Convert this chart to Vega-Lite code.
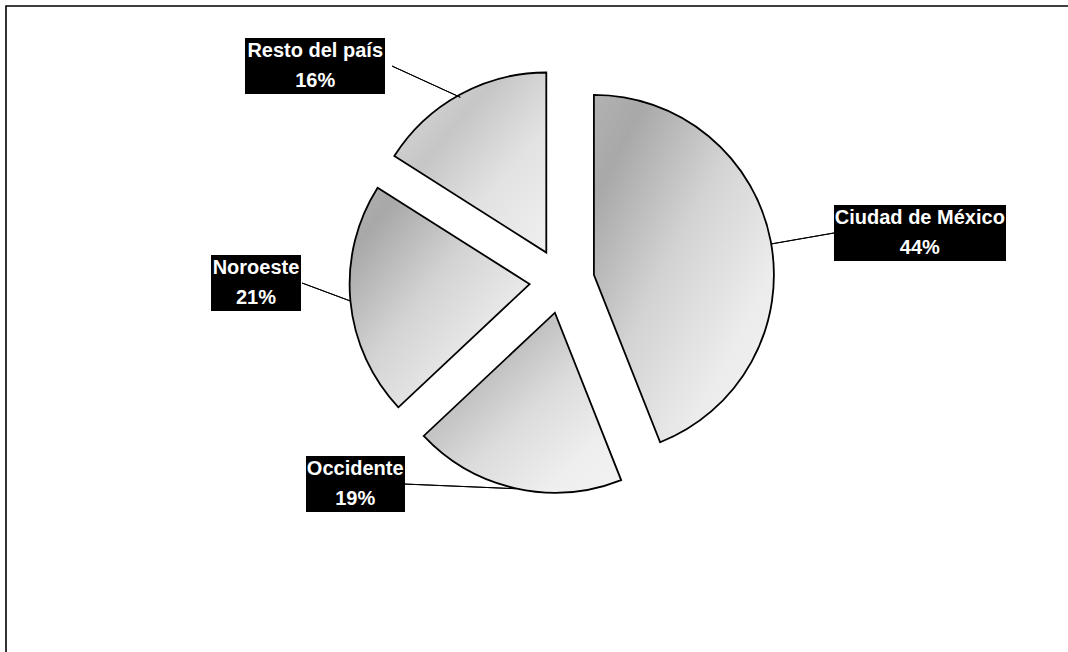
{
  "$schema": "https://vega.github.io/schema/vega-lite/v6.json",
  "width": 1082,
  "height": 666,
  "autosize": {"type": "none"},
  "padding": {"left": 6, "top": 6, "right": -20, "bottom": -20},
  "background": "#ffffff",
  "view": {"stroke": "#000000", "strokeWidth": 1.6, "fill": "#ffffff"},
  "config": {"view": {"stroke": "#000000", "strokeWidth": 1.6}},
  "data": {
    "values": [
      {"region": "Ciudad de México", "pct": 44, "orden": 1, "etiqueta": "Ciudad de México\n44%"},
      {"region": "Occidente", "pct": 19, "orden": 2, "etiqueta": "Occidente\n19%"},
      {"region": "Noroeste", "pct": 21, "orden": 3, "etiqueta": "Noroeste\n21%"},
      {"region": "Resto del país", "pct": 16, "orden": 4, "etiqueta": "Resto del país\n16%"}
    ]
  },
  "encoding": {
    "theta": {"field": "pct", "type": "quantitative", "stack": true},
    "order": {"field": "orden", "type": "quantitative"}
  },
  "layer": [
    {
      "mark": {"type": "arc", "radius": 180, "xOffset": 46.9, "yOffset": -64.1, "stroke": "#000000", "strokeWidth": 1.8,
        "fill": {"gradient": "linear", "x1": 0, "y1": 0, "x2": 1, "y2": 1, "stops": [{"offset": 0, "color": "#b2b2b2"}, {"offset": 0.15, "color": "#a8a8a8"}, {"offset": 0.45, "color": "#d3d3d3"}, {"offset": 0.75, "color": "#ececec"}, {"offset": 1, "color": "#f3f3f3"}]}},
      "encoding": {"opacity": {"condition": {"test": "datum.region === 'Ciudad de México'", "value": 1}, "value": 0}}
    },
    {
      "mark": {"type": "arc", "radius": 180, "xOffset": 7.9, "yOffset": -26.3, "stroke": "#000000", "strokeWidth": 1.8,
        "fill": {"gradient": "linear", "x1": 0, "y1": 0, "x2": 1, "y2": 1, "stops": [{"offset": 0, "color": "#c4c4c4"}, {"offset": 0.3, "color": "#bdbdbd"}, {"offset": 0.55, "color": "#dcdcdc"}, {"offset": 0.8, "color": "#eeeeee"}, {"offset": 1, "color": "#f3f3f3"}]}},
      "encoding": {"opacity": {"condition": {"test": "datum.region === 'Occidente'", "value": 1}, "value": 0}}
    },
    {
      "mark": {"type": "arc", "radius": 180, "xOffset": -17.4, "yOffset": -54.9, "stroke": "#000000", "strokeWidth": 1.8,
        "fill": {"gradient": "linear", "x1": 0, "y1": 0, "x2": 1, "y2": 1, "stops": [{"offset": 0, "color": "#b2b2b2"}, {"offset": 0.15, "color": "#a8a8a8"}, {"offset": 0.45, "color": "#d3d3d3"}, {"offset": 0.75, "color": "#ececec"}, {"offset": 1, "color": "#f3f3f3"}]}},
      "encoding": {"opacity": {"condition": {"test": "datum.region === 'Noroeste'", "value": 1}, "value": 0}}
    },
    {
      "mark": {"type": "arc", "radius": 180, "xOffset": -0.7, "yOffset": -86.5, "stroke": "#000000", "strokeWidth": 1.8,
        "fill": {"gradient": "linear", "x1": 0, "y1": 0, "x2": 1, "y2": 1, "stops": [{"offset": 0, "color": "#dcdcdc"}, {"offset": 0.35, "color": "#c6c6c6"}, {"offset": 0.65, "color": "#e2e2e2"}, {"offset": 1, "color": "#f0f0f0"}]}},
      "encoding": {"opacity": {"condition": {"test": "datum.region === 'Resto del país'", "value": 1}, "value": 0}}
    },
    {
      "mark": {"type": "arc", "radius": 244, "radius2": 180, "padAngle": 3.1416, "thetaOffset": 0.0157, "theta2Offset": 0.0157, "xOffset": 46.9, "yOffset": -64.1, "filled": false, "stroke": "#000000", "strokeWidth": 1},
      "encoding": {"opacity": {"condition": {"test": "datum.region === 'Ciudad de México'", "value": 1}, "value": 0}}
    },
    {
      "mark": {"type": "arc", "radius": 110.8, "radius2": 0, "padAngle": 3.1416, "thetaOffset": 1.3928, "theta2Offset": 1.3928, "xOffset": -31.3, "yOffset": 149.7, "filled": false, "stroke": "#000000", "strokeWidth": 1},
      "encoding": {"opacity": {"condition": {"test": "datum.region === 'Occidente'", "value": 1}, "value": 0}}
    },
    {
      "mark": {"type": "arc", "radius": 51.6, "radius2": 0, "padAngle": 3.1416, "thetaOffset": 0.4503, "theta2Offset": 0.4503, "xOffset": -196.6, "yOffset": -38, "filled": false, "stroke": "#000000", "strokeWidth": 1},
      "encoding": {"opacity": {"condition": {"test": "datum.region === 'Noroeste'", "value": 1}, "value": 0}}
    },
    {
      "mark": {"type": "arc", "radius": 75.1, "radius2": 0, "padAngle": 3.1416, "thetaOffset": -0.6388, "theta2Offset": -0.6388, "xOffset": -86.7, "yOffset": -241.7, "filled": false, "stroke": "#000000", "strokeWidth": 1},
      "encoding": {"opacity": {"condition": {"test": "datum.region === 'Resto del país'", "value": 1}, "value": 0}}
    },
    {
      "mark": {"type": "arc", "radius": 444, "radius2": 272, "padAngle": 3.1416, "thetaOffset": 0.1885, "theta2Offset": 0.1885, "xOffset": 15, "yOffset": -106, "filled": false, "stroke": "#000000", "strokeWidth": 56, "strokeJoin": "miter", "strokeCap": "butt"},
      "encoding": {"opacity": {"condition": {"test": "datum.region === 'Ciudad de México'", "value": 1}, "value": 0}}
    },
    {
      "mark": {"type": "arc", "radius": 256, "radius2": 157, "padAngle": 3.1416, "thetaOffset": 1.35089, "theta2Offset": 1.35089, "xOffset": 15, "yOffset": 145, "filled": false, "stroke": "#000000", "strokeWidth": 56, "strokeJoin": "miter", "strokeCap": "butt"},
      "encoding": {"opacity": {"condition": {"test": "datum.region === 'Occidente'", "value": 1}, "value": 0}}
    },
    {
      "mark": {"type": "arc", "radius": 351, "radius2": 261, "padAngle": 3.1416, "thetaOffset": 0.09425, "theta2Offset": 0.09425, "xOffset": 15, "yOffset": -56, "filled": false, "stroke": "#000000", "strokeWidth": 56, "strokeJoin": "miter", "strokeCap": "butt"},
      "encoding": {"opacity": {"condition": {"test": "datum.region === 'Noroeste'", "value": 1}, "value": 0}}
    },
    {
      "mark": {"type": "arc", "radius": 317, "radius2": 177, "padAngle": 3.1416, "thetaOffset": -1.06814, "theta2Offset": -1.06814, "xOffset": 15, "yOffset": -273, "filled": false, "stroke": "#000000", "strokeWidth": 56, "strokeJoin": "miter", "strokeCap": "butt"},
      "encoding": {"opacity": {"condition": {"test": "datum.region === 'Resto del país'", "value": 1}, "value": 0}}
    },
    {
      "mark": {"type": "text", "radius": 361, "thetaOffset": 0.0559, "xOffset": 15, "yOffset": -73, "lineBreak": "\n", "lineHeight": 30, "font": "Liberation Sans", "fontSize": 20, "fontWeight": "bold", "align": "center", "baseline": "middle", "fill": "#ffffff"},
      "encoding": {"text": {"condition": {"test": "datum.region === 'Ciudad de México'", "field": "etiqueta", "type": "nominal"}, "value": ""}}
    },
    {
      "mark": {"type": "text", "radius": 290, "thetaOffset": 0.574, "xOffset": 15, "yOffset": -73, "lineBreak": "\n", "lineHeight": 30, "font": "Liberation Sans", "fontSize": 20, "fontWeight": "bold", "align": "center", "baseline": "middle", "fill": "#ffffff"},
      "encoding": {"text": {"condition": {"test": "datum.region === 'Occidente'", "field": "etiqueta", "type": "nominal"}, "value": ""}}
    },
    {
      "mark": {"type": "text", "radius": 306, "thetaOffset": 0.0873, "xOffset": 15, "yOffset": -73, "lineBreak": "\n", "lineHeight": 30, "font": "Liberation Sans", "fontSize": 20, "fontWeight": "bold", "align": "center", "baseline": "middle", "fill": "#ffffff"},
      "encoding": {"text": {"condition": {"test": "datum.region === 'Noroeste'", "field": "etiqueta", "type": "nominal"}, "value": ""}}
    },
    {
      "mark": {"type": "text", "radius": 327, "thetaOffset": -0.3526, "xOffset": 15, "yOffset": -73, "lineBreak": "\n", "lineHeight": 30, "font": "Liberation Sans", "fontSize": 20, "fontWeight": "bold", "align": "center", "baseline": "middle", "fill": "#ffffff"},
      "encoding": {"text": {"condition": {"test": "datum.region === 'Resto del país'", "field": "etiqueta", "type": "nominal"}, "value": ""}}
    }
  ]
}
